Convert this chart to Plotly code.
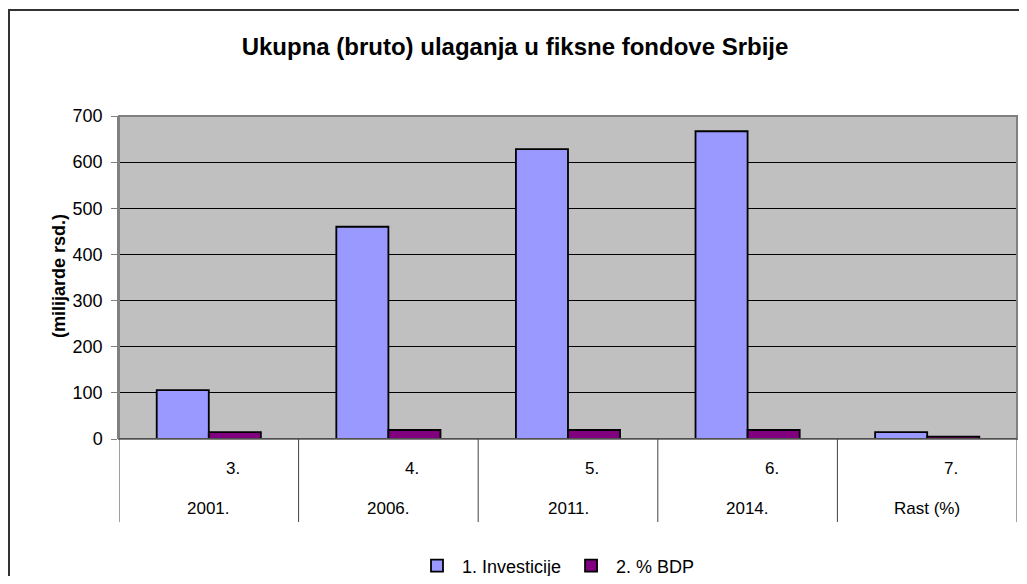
import plotly.graph_objects as go

# Data
categories = ["2001.", "2006.", "2011.", "2014.", "Rast (%)"]
row_numbers = ["3.", "4.", "5.", "6.", "7."]
investicije = [106, 460, 628, 667, 15]
bdp = [15, 19.5, 19.5, 19.5, 5]
series_names = ["1. Investicije", "2. % BDP"]

# The page body has an 8px margin; lay out in reference pixels and offset.
OFF = 8
W, H = 1027 - 2 * OFF, 584 - 2 * OFF
PL, PR, PT, PB = 119, 1017, 116, 439   # plot area in reference pixels
ML = PL - OFF
MT = PT - OFF
MR = W - (PR - OFF)
MB = H - (PB - OFF)
PW = PR - PL
PH = PB - PT

font_family = "Liberation Sans, Arial, sans-serif"
xpos = list(range(len(categories)))

fig = go.Figure()
fig.add_trace(go.Bar(
    x=xpos, y=investicije, name=series_names[0],
    marker=dict(color="#9999FF", line=dict(color="black", width=1.8)),
))
fig.add_trace(go.Bar(
    x=xpos, y=bdp, name=series_names[1],
    marker=dict(color="#800080", line=dict(color="black", width=1.8)),
))

def py(pix):
    return (PB - pix) / PH

def px(pix):
    return (pix - PL) / PW

shapes = []
# outer frame
shapes.append(dict(type="rect", xref="paper", yref="paper",
                   x0=px(9), x1=px(1040), y0=py(600), y1=py(10),
                   line=dict(color="#333333", width=2), layer="below"))
# plot area border
shapes.append(dict(type="rect", xref="paper", yref="paper",
                   x0=0, x1=1, y0=0, y1=1,
                   line=dict(color="#808080", width=2), layer="above"))
# category separators
for i in range(len(categories) + 1):
    shapes.append(dict(type="line", xref="x", yref="paper",
                       x0=i - 0.5, x1=i - 0.5, y0=0, y1=py(522),
                       line=dict(color="#404040", width=1)))
# zero line
shapes.append(dict(type="line", xref="paper", yref="y",
                   x0=0, x1=1, y0=0, y1=0,
                   line=dict(color="#404040", width=1.5)))

annotations = []
for i, (num, cat) in enumerate(zip(row_numbers, categories)):
    annotations.append(dict(x=i, y=py(468), xref="x", yref="paper", text=num,
                            showarrow=False, xshift=24, yanchor="middle",
                            font=dict(family=font_family, size=17, color="black")))
    annotations.append(dict(x=i, y=py(508), xref="x", yref="paper", text=cat,
                            showarrow=False, yanchor="middle",
                            font=dict(family=font_family, size=17, color="black")))
# y axis title
annotations.append(dict(x=px(47), y=py(276), xref="paper", yref="paper",
                        text="<b>(milijarde rsd.)</b>", textangle=-90, showarrow=False,
                        font=dict(family=font_family, size=18, color="black")))

fig.update_layout(
    width=W, height=H,
    margin=dict(l=ML, r=MR, t=MT, b=MB, pad=0, autoexpand=False),
    paper_bgcolor="white",
    plot_bgcolor="#C0C0C0",
    title=dict(text="<b>Ukupna (bruto) ulaganja u fiksne fondove Srbije</b>",
               x=(515 - OFF) / W, xanchor="center", y=1 - (47 - OFF) / H, yanchor="middle",
               font=dict(family=font_family, size=24, color="black")),
    barmode="group", bargap=0.42, bargroupgap=0,
    xaxis=dict(range=[-0.5, len(categories) - 0.5], showticklabels=False,
               showgrid=False, zeroline=False, showline=False, ticks=""),
    yaxis=dict(range=[0, 700], dtick=100, showgrid=True, gridcolor="black", gridwidth=1,
               zeroline=False, showline=True, linecolor="#808080", linewidth=1.5,
               ticks="outside", ticklen=6, tickcolor="#808080", ticklabelstandoff=5,
               tickfont=dict(family=font_family, size=18, color="black")),
    showlegend=True,
    legend=dict(orientation="h", x=px(412), xanchor="left", y=py(566), yanchor="middle",
                itemwidth=40,
                font=dict(family=font_family, size=18, color="black"),
                bgcolor="rgba(0,0,0,0)"),
    shapes=shapes,
    annotations=annotations,
)

fig.write_html("out.html")
